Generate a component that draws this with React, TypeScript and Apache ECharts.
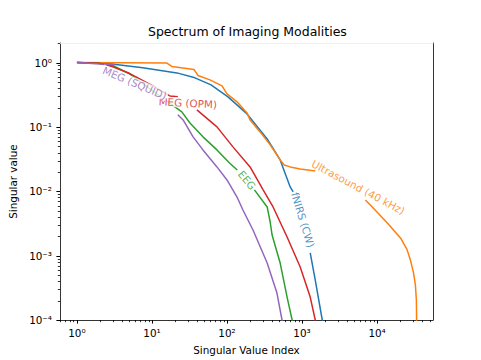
import React, { useEffect, useRef } from "react";
import * as echarts from "echarts";

// ---------- data ----------
const SERIES_NAMES = ["fNIRS (CW)", "Ultrasound (40 kHz)", "EEG", "MEG (OPM)", "MEG (SQUID)"];
const COLORS = ["#1f77b4", "#ff7f0e", "#2ca02c", "#d62728", "#9467bd"];

// null marks the gap where the inline label sits
const FNIRS_IDX = [1, 2.73, 7.55, 21.5, 37.4, 61.3, 103, 185, 343, 511, 695, 762, null, 1285, 1500, 1860, 1920];
const FNIRS_SV = [1, 0.955, 0.827, 0.69, 0.578, 0.45, 0.293, 0.159, 0.065, 0.0307, 0.01166, 0.00977, null, 0.0011, 0.000417, 0.0001, 0.000075];

const ULTRA_IDX = [1, 15.8, 18.4, 36.3, 41, 59.3, 85.8, 100, 136, 185, 203, 276, 376, 511, 578, 695, 945, 1500, null, 6980, 8130, 13700, 20500, 25000, 27800, 30500, 32400, 33400, 33700];
const ULTRA_SV = [1, 0.98, 0.87, 0.78, 0.63, 0.538, 0.434, 0.326, 0.245, 0.165, 0.128, 0.0836, 0.0525, 0.0307, 0.0256, 0.0239, 0.0222, 0.0207, null, 0.00733, 0.00612, 0.00321, 0.00188, 0.00125, 0.000853, 0.00055, 0.000348, 0.000203, 0.00008];

const EEG_IDX = [1, 2, 3, 5, 10, 25, 32.1, 47.8, 73.5, 108, 137, null, 232, 343, 376, 399, 511, 632, 738, 760];
const EEG_SV = [1, 0.97, 0.9, 0.667, 0.37, 0.171, 0.115, 0.07, 0.0439, 0.0275, 0.0214, null, 0.0105, 0.0057, 0.00333, 0.00209, 0.000767, 0.000227, 0.0001, 0.000075];

const OPM_IDX = [1, 2, 3, 5, 10, 17.3, 22.1, null, 39.7, 73.5, 120, 203, 303, 411, 632, 945, 1285, 1500, 1550];
const OPM_SV = [1, 0.97, 0.86, 0.68, 0.44, 0.303, 0.293, null, 0.184, 0.1, 0.0489, 0.0239, 0.0105, 0.0057, 0.00195, 0.000665, 0.000227, 0.0001, 0.000075];

const SQUID_IDX = [1, 2, 3.2, null, 22.1, 26, 35.3, 47.8, 73.5, 100, 136, 163, 222, 343, 463, 541, 560];
const SQUID_SV = [1, 0.95, 0.93, null, 0.154, 0.128, 0.07, 0.0439, 0.0239, 0.015, 0.00814, 0.00512, 0.0025, 0.000767, 0.000262, 0.0001, 0.000075];

const SERIES_IDX = [FNIRS_IDX, ULTRA_IDX, EEG_IDX, OPM_IDX, SQUID_IDX];
const SERIES_SV = [FNIRS_SV, ULTRA_SV, EEG_SV, OPM_SV, SQUID_SV];

// inline label anchors (data coordinates)
const LABEL_IDX = [1035, 5620, 185, 30, 5.9];
const LABEL_SV = [0.00358, 0.01166, 0.015, 0.236, 0.483];
const LABEL_ROTATE = [-73, -28, -50, -3, -23];

const X_TICKS = [1, 10, 100, 1000, 10000];
const Y_TICKS = [1e-4, 1e-3, 1e-2, 1e-1, 1];
const X_RANGE = [0.595, 55600];
const Y_RANGE = [1e-4, 2.01];

const TITLE = "Spectrum of Imaging Modalities";
const X_NAME = "Singular Value Index";
const Y_NAME = "Singular value";

// ---------- helpers ----------
const SUP: Record<string, string> = {
  "0": "⁰", "1": "¹", "2": "²", "3": "³", "4": "⁴", "5": "⁵",
  "6": "⁶", "7": "⁷", "8": "⁸", "9": "⁹", "-": "⁻",
};
const powLabel = (v: number) =>
  "10" + String(Math.round(v)).split("").map((c) => SUP[c] || c).join("");

const minorTicks = (lo: number, hi: number) => {
  const out: number[] = [];
  for (let e = Math.floor(Math.log10(lo)); e <= Math.ceil(Math.log10(hi)); e++) {
    for (let m = 2; m <= 9; m++) {
      const v = m * Math.pow(10, e);
      if (v >= lo && v <= hi) out.push(Math.log10(v));
    }
  }
  return out;
};

const FONT = "DejaVu Sans";

export default function App() {
  const ref = useRef<HTMLDivElement>(null);

  useEffect(() => {
    if (!ref.current) return;
    const chart = echarts.init(ref.current, undefined, { renderer: "svg" });

    const xMin = Math.log10(X_RANGE[0]);
    const xMax = Math.log10(X_RANGE[1]);
    const yMin = Math.log10(Y_RANGE[0]);
    const yMax = Math.log10(Y_RANGE[1]);
    const xMajor = X_TICKS.map((v) => Math.log10(v));
    const yMajor = Y_TICKS.map((v) => Math.log10(v));
    const xMinor = minorTicks(X_RANGE[0], X_RANGE[1]);
    const yMinor = minorTicks(Y_RANGE[0], Y_RANGE[1]);

    const black = "#000";
    const lineSeries = SERIES_NAMES.map((name, s) => ({
      type: "line",
      name,
      xAxisIndex: 0,
      yAxisIndex: 0,
      showSymbol: false,
      symbol: "none",
      clip: true,
      connectNulls: false,
      z: 2,
      lineStyle: { color: COLORS[s], width: 1.5 },
      itemStyle: { color: COLORS[s] },
      data: SERIES_IDX[s].map((x, k) => {
        const y = SERIES_SV[s][k];
        return x == null || y == null ? ["-", "-"] : [Math.log10(x), Math.log10(y)];
      }),
    }));

    const labelSeries = {
      type: "scatter",
      xAxisIndex: 0,
      yAxisIndex: 0,
      symbolSize: 0,
      silent: true,
      z: 10,
      data: SERIES_NAMES.map((name, s) => ({
        value: [Math.log10(LABEL_IDX[s]), Math.log10(LABEL_SV[s])],
        label: {
          show: true,
          position: "inside",
          formatter: name,
          rotate: LABEL_ROTATE[s],
          color: COLORS[s],
          fontSize: 10.4,
          fontFamily: FONT,
          backgroundColor: "#ffffff",
          padding: [0, 1],
        },
      })),
    };

    const common = { type: "value", min: xMin, max: xMax, splitLine: { show: false } };
    const commonY = { type: "value", min: yMin, max: yMax, splitLine: { show: false } };

    chart.setOption({
      animation: false,
      backgroundColor: "#ffffff",
      textStyle: { fontFamily: FONT },
      title: {
        text: TITLE,
        left: 148,
        top: 25,
        padding: 0,
        textStyle: { fontFamily: FONT, fontSize: 12.5, fontWeight: "normal", color: black },
      },
      grid: { left: 60, right: 48, top: 43, bottom: 40, containLabel: false, outerBoundsMode: "none" },
      xAxis: [
        {
          ...common,
          position: "bottom",
          name: X_NAME,
          nameLocation: "middle",
          nameGap: 25,
          nameTextStyle: { fontFamily: FONT, fontSize: 10.4, color: black },
          axisLine: { show: true, onZero: false, lineStyle: { color: black, width: 0.8 } },
          axisTick: { show: false },
          axisLabel: {
            show: true,
            customValues: xMajor,
            formatter: (v: number) => powLabel(v),
            color: black,
            fontSize: 10.4,
            fontFamily: FONT,
            margin: 8,
          },
        },
        {
          ...common,
          position: "top",
          axisLine: { show: true, onZero: false, lineStyle: { color: "#ebebeb", width: 0.8 } },
          axisTick: { show: false },
          axisLabel: { show: false },
        },
      ],
      yAxis: [
        {
          ...commonY,
          position: "left",
          name: Y_NAME,
          nameLocation: "middle",
          nameGap: 38,
          nameTextStyle: { fontFamily: FONT, fontSize: 10.4, color: black },
          axisLine: { show: true, onZero: false, lineStyle: { color: black, width: 0.8 } },
          axisTick: { show: false },
          axisLabel: {
            show: true,
            customValues: yMajor,
            formatter: (v: number) => powLabel(v),
            color: black,
            fontSize: 10.4,
            fontFamily: FONT,
            margin: 8,
          },
        },
        {
          ...commonY,
          position: "right",
          axisLine: { show: true, onZero: false, lineStyle: { color: black, width: 0.8 } },
          axisTick: { show: false },
          axisLabel: { show: false },
        },
      ],
      series: [...lineSeries, labelSeries],
    });

    // tick marks (matplotlib style, outward): positions come from the grid's own scales
    const finder = { gridIndex: 0 };
    const tickEls: any[] = [];
    const addX = (v: number, len: number, lw: number) => {
      const p = chart.convertToPixel(finder, [v, yMin]) as number[];
      if (!p) return;
      const x = Math.round(p[0]) + 0.5;
      tickEls.push({
        type: "line",
        silent: true,
        z: 100,
        shape: { x1: x, y1: p[1], x2: x, y2: p[1] + len },
        style: { stroke: black, lineWidth: lw },
      });
    };
    const addY = (v: number, len: number, lw: number) => {
      const p = chart.convertToPixel(finder, [xMin, v]) as number[];
      if (!p) return;
      const y = Math.round(p[1]) + 0.5;
      tickEls.push({
        type: "line",
        silent: true,
        z: 100,
        shape: { x1: p[0] - len, y1: y, x2: p[0], y2: y },
        style: { stroke: black, lineWidth: lw },
      });
    };
    xMajor.forEach((v) => addX(v, 3.6, 1));
    xMinor.forEach((v) => addX(v, 2.2, 0.8));
    yMajor.forEach((v) => addY(v, 3.6, 1));
    yMinor.forEach((v) => addY(v, 2.2, 0.8));
    chart.setOption({ graphic: { elements: tickEls } });

    return () => chart.dispose();
  }, []);

  return (
    <div
      ref={ref}
      style={{ position: "fixed", left: 0, top: 0, width: 481, height: 360 }}
    />
  );
}
